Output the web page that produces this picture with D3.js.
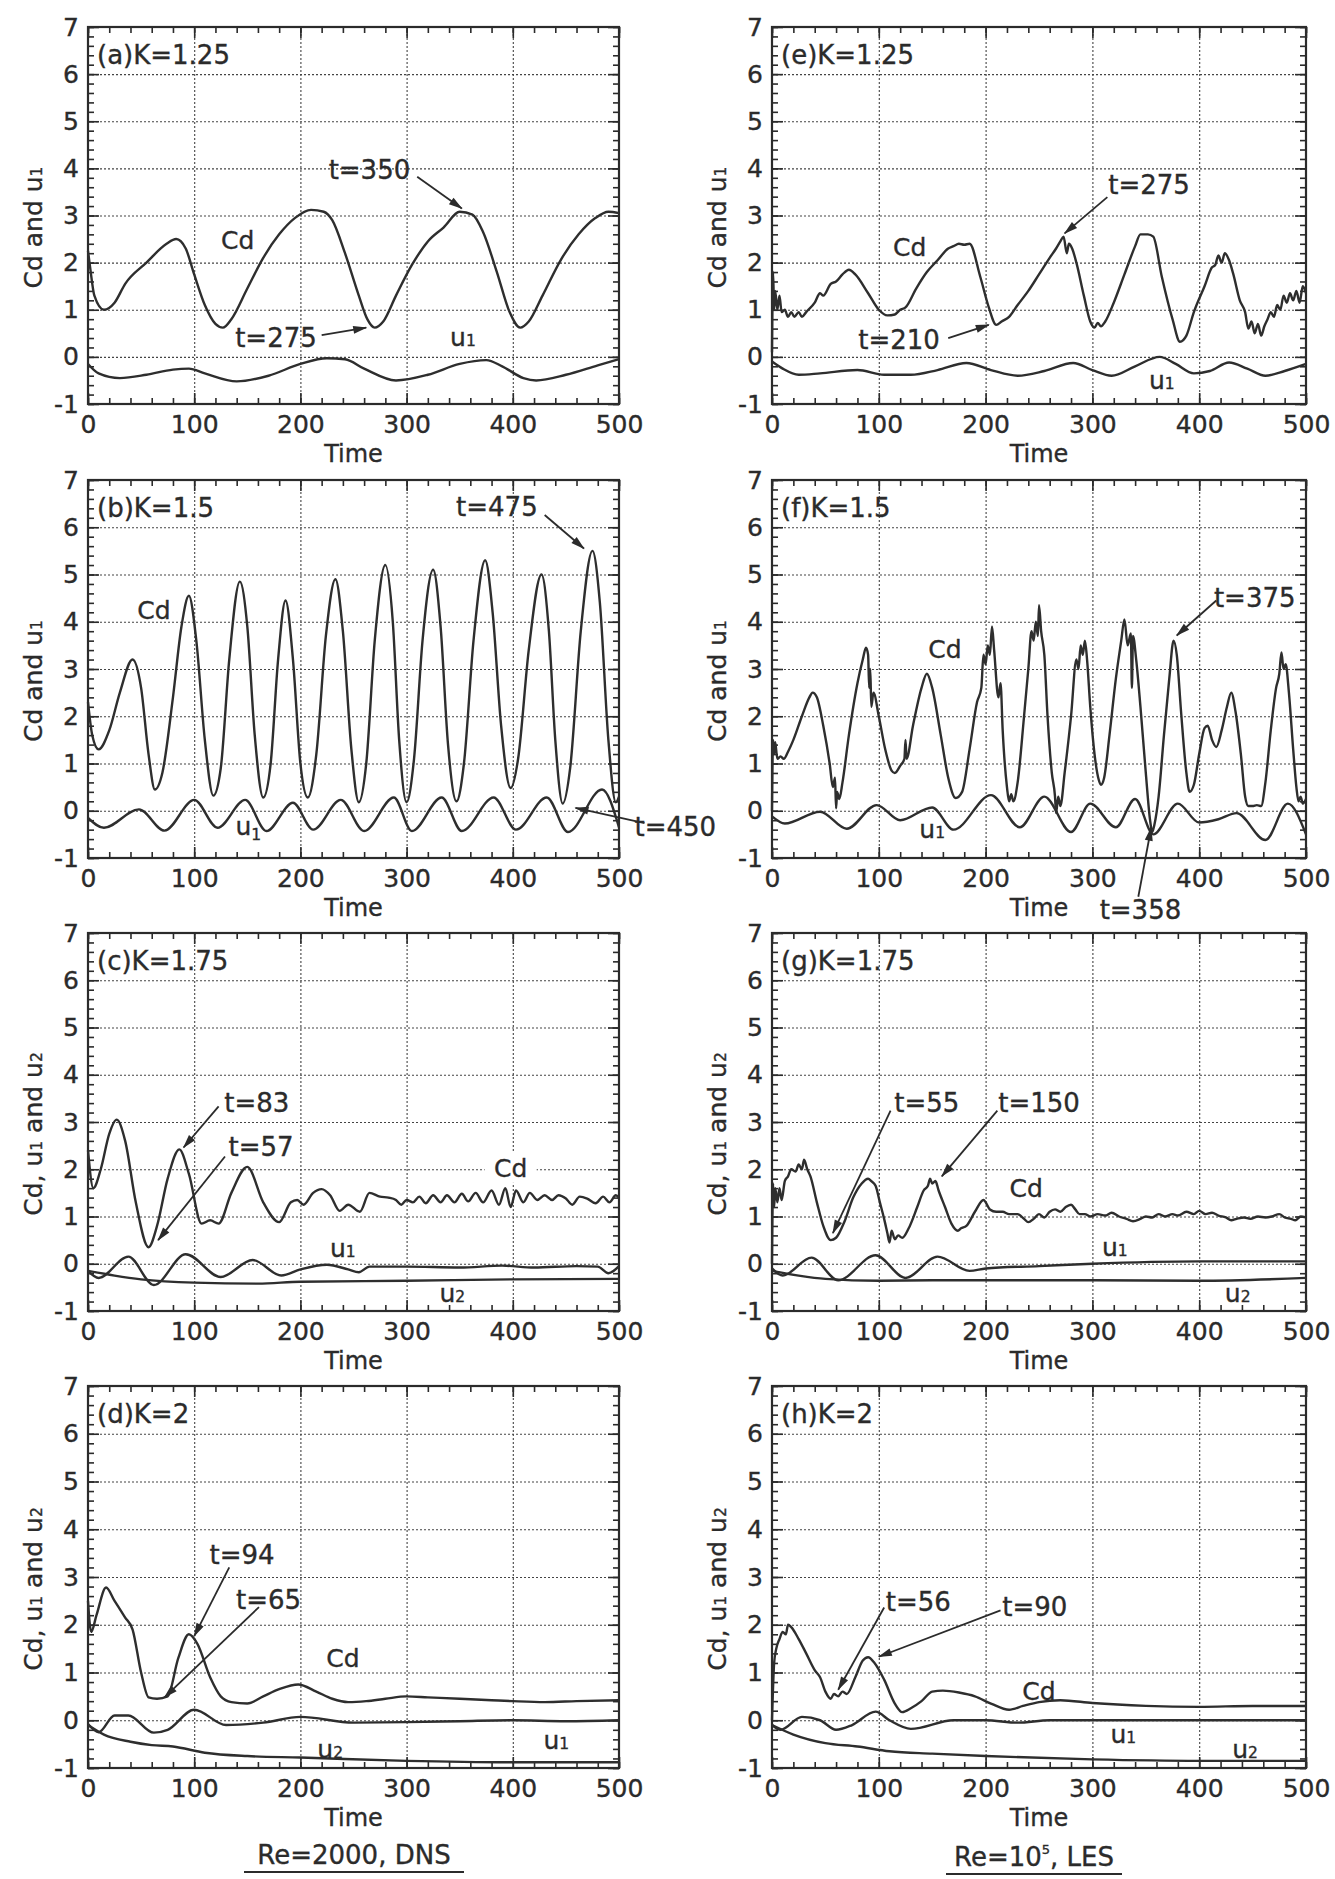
<!DOCTYPE html>
<html>
<head>
<meta charset="utf-8">
<script src="https://cdn.jsdelivr.net/npm/d3@7"></script>
<style>
  body { margin: 0; background: #fff; }
  svg text { font-family: "DejaVu Sans", sans-serif; fill: #2b2b2b; stroke: #2b2b2b; stroke-width: 0.35px; }
</style>
</head>
<body>
<svg id="chart" width="1335" height="1879"></svg>
<script>
// ---- data, [time, value] ----
const aCd = [[0,2.25],[2,1.9],[6,1.3],[15,1.0],[25,1.15],[35,1.55],[55,2.0],[74,2.4],[83,2.5],[92,2.3],[100,1.75],[110,1.1],[120,0.7],[127,0.62],[135,0.8],[150,1.45],[165,2.1],[180,2.6],[195,2.95],[210,3.12],[222,3.08],[230,2.9],[242,2.2],[255,1.3],[263,0.8],[270,0.62],[278,0.75],[290,1.3],[305,1.95],[320,2.45],[335,2.75],[350,3.08],[362,3.02],[372,2.65],[385,1.8],[397,0.95],[407,0.62],[415,0.75],[428,1.3],[445,2.05],[462,2.6],[478,2.95],[490,3.08],[500,3.05]];
const aU1 = [[0,-0.15],[10,-0.35],[30,-0.45],[55,-0.38],[80,-0.27],[95,-0.25],[110,-0.35],[140,-0.52],[170,-0.4],[200,-0.15],[225,-0.03],[242,-0.05],[260,-0.25],[290,-0.5],[320,-0.38],[350,-0.15],[375,-0.07],[390,-0.2],[410,-0.45],[422,-0.5],[450,-0.38],[480,-0.18],[500,-0.05]];

const bCd = [[0,2.3],[4,1.6],[10,1.3],[20,1.7],[30,2.5],[42,3.2],[50,2.6],[57,1.2],[63,0.45],[70,0.8],[80,2.4],[88,3.9],[95,4.55],[102,3.6],[110,1.5],[118,0.32],[125,0.9],[133,3.2],[143,4.85],[150,3.9],[157,1.6],[165,0.28],[172,1.0],[179,3.2],[186,4.45],[193,3.2],[200,1.0],[207,0.28],[215,1.2],[224,3.7],[233,4.9],[240,3.8],[248,1.3],[255,0.18],[262,1.0],[270,3.6],[280,5.2],[287,4.0],[293,1.5],[300,0.18],[307,1.1],[315,3.6],[325,5.1],[332,3.9],[339,1.4],[347,0.2],[354,1.0],[363,3.6],[374,5.3],[381,4.2],[389,1.8],[398,0.48],[405,1.1],[415,3.4],[427,5.0],[434,3.8],[440,1.5],[447,0.15],[454,0.9],[464,3.8],[475,5.5],[482,4.4],[490,1.5],[497,0.18],[500,0.3]];
const bU1 = [[0,-0.15],[15,-0.36],[48,0.03],[72,-0.42],[100,0.23],[122,-0.36],[148,0.23],[168,-0.43],[193,0.17],[212,-0.4],[238,0.23],[260,-0.43],[288,0.28],[305,-0.43],[333,0.28],[352,-0.43],[382,0.28],[403,-0.4],[432,0.28],[452,-0.45],[484,0.45],[500,-0.35]];

const cCd = [[0,2.4],[5,1.6],[12,2.0],[20,2.75],[27,3.05],[35,2.6],[45,1.3],[57,0.35],[65,0.8],[75,1.8],[86,2.42],[95,1.9],[107,0.85],[115,0.92],[123,0.85],[135,1.5],[150,2.05],[165,1.3],[180,0.88],[191,1.3],[197,1.35],[203,1.25],[212,1.5],[220,1.58],[228,1.45],[237,1.12],[245,1.25],[256,1.1],[265,1.5],[275,1.42],[283,1.4],[290,1.35],[295,1.25],[300,1.35],[306,1.3],[312,1.42],[318,1.28],[325,1.45],[332,1.3],[338,1.45],[345,1.3],[352,1.48],[358,1.32],[365,1.5],[372,1.3],[380,1.55],[387,1.25],[393,1.6],[398,1.2],[403,1.55],[410,1.3],[416,1.5],[423,1.35],[430,1.45],[437,1.35],[443,1.45],[450,1.38],[456,1.25],[463,1.42],[470,1.38],[478,1.28],[485,1.42],[491,1.3],[497,1.45],[500,1.4]];
const cU1 = [[0,-0.15],[10,-0.3],[38,0.15],[62,-0.45],[92,0.2],[125,-0.28],[155,0.08],[182,-0.25],[200,-0.12],[225,-0.02],[245,-0.12],[255,-0.18],[265,-0.06],[300,-0.06],[350,-0.08],[390,-0.04],[420,-0.08],[460,-0.05],[480,-0.06],[490,-0.2],[500,-0.05]];
const cU2 = [[0,-0.15],[25,-0.25],[50,-0.33],[100,-0.4],[160,-0.42],[200,-0.38],[300,-0.36],[400,-0.33],[500,-0.32]];

const dCd = [[0,2.5],[3,1.85],[8,2.2],[17,2.78],[25,2.5],[35,2.15],[42,1.9],[50,1.0],[57,0.48],[65,0.45],[75,0.5],[85,1.3],[95,1.8],[103,1.6],[115,0.9],[125,0.5],[135,0.38],[150,0.35],[165,0.5],[180,0.65],[198,0.75],[215,0.6],[230,0.45],[245,0.38],[262,0.4],[280,0.45],[300,0.5],[320,0.48],[350,0.45],[380,0.42],[400,0.4],[430,0.38],[460,0.4],[500,0.42]];
const dU1 = [[0,-0.08],[10,-0.25],[25,0.1],[38,0.1],[62,-0.26],[75,-0.2],[100,0.22],[130,-0.1],[165,-0.05],[200,0.07],[250,-0.05],[300,-0.04],[350,-0.02],[400,0.0],[450,-0.02],[500,0.0]];
const dU2 = [[0,-0.1],[15,-0.3],[40,-0.45],[60,-0.52],[80,-0.55],[110,-0.68],[150,-0.75],[200,-0.78],[300,-0.85],[400,-0.88],[500,-0.88]];

const eCd = [[0,0.1],[1,1.8],[2,1.0],[3,1.4],[5,1.0],[7,1.3],[9,0.95],[12,1.0],[15,0.85],[18,0.95],[21,0.85],[25,0.95],[28,0.85],[32,0.95],[40,1.15],[45,1.35],[48,1.3],[55,1.55],[60,1.6],[66,1.75],[72,1.85],[78,1.75],[90,1.35],[100,1.0],[108,0.88],[115,0.9],[120,1.0],[125,1.05],[135,1.45],[145,1.8],[155,2.05],[165,2.3],[170,2.35],[175,2.4],[180,2.38],[185,2.4],[195,1.7],[203,1.05],[210,0.68],[215,0.75],[222,0.85],[230,1.1],[240,1.4],[250,1.75],[260,2.1],[266,2.3],[270,2.45],[273,2.55],[276,2.2],[278,2.4],[281,2.3],[285,2.0],[292,1.3],[298,0.75],[302,0.62],[305,0.72],[308,0.65],[312,0.75],[320,1.15],[330,1.75],[340,2.35],[345,2.6],[352,2.6],[357,2.55],[365,1.7],[375,0.8],[382,0.32],[388,0.45],[395,0.95],[405,1.5],[412,1.9],[415,1.95],[418,2.15],[421,2.0],[424,2.2],[428,2.05],[432,1.75],[438,1.2],[443,0.95],[446,0.6],[449,0.75],[452,0.5],[455,0.7],[458,0.45],[461,0.65],[464,0.8],[467,0.95],[470,0.85],[473,1.1],[476,1.0],[479,1.3],[482,1.15],[485,1.35],[488,1.2],[491,1.4],[494,1.15],[497,1.5],[500,1.35]];
const eU1 = [[0,-0.1],[10,-0.25],[25,-0.38],[45,-0.35],[80,-0.28],[105,-0.38],[130,-0.38],[155,-0.28],[182,-0.13],[205,-0.28],[230,-0.4],[255,-0.3],[282,-0.13],[300,-0.28],[318,-0.4],[340,-0.2],[363,0.0],[378,-0.15],[395,-0.35],[410,-0.3],[428,-0.12],[445,-0.25],[462,-0.4],[480,-0.3],[500,-0.15]];

const fCd = [[0,0.0],[1,1.5],[2,1.2],[3,1.45],[5,1.1],[8,1.15],[11,1.1],[15,1.25],[20,1.5],[28,2.0],[35,2.4],[38,2.5],[42,2.4],[48,1.8],[54,1.0],[57,0.5],[59,0.7],[60,0.05],[61,0.4],[63,0.25],[66,0.6],[72,1.6],[80,2.7],[85,3.2],[88,3.45],[90,3.3],[91,2.6],[92,3.0],[93,2.2],[95,2.5],[100,2.0],[106,1.3],[112,0.85],[115,0.8],[120,0.95],[124,1.1],[125,1.5],[126,1.1],[132,1.8],[140,2.6],[145,2.9],[150,2.6],[158,1.6],[165,0.7],[172,0.27],[178,0.4],[185,1.3],[192,2.3],[196,2.6],[198,3.3],[200,3.1],[202,3.5],[204,3.3],[206,3.9],[208,3.4],[212,2.4],[214,2.7],[216,1.7],[220,0.5],[222,0.2],[224,0.35],[226,0.2],[230,0.6],[236,2.0],[240,3.0],[243,3.8],[245,3.6],[247,4.0],[249,3.7],[250,4.35],[252,3.8],[255,3.3],[258,2.0],[262,0.8],[265,0.3],[266,-0.05],[268,0.3],[270,0.1],[274,0.8],[280,2.0],[285,3.2],[287,3.0],[289,3.5],[291,3.3],[293,3.6],[295,3.2],[298,2.2],[302,1.2],[306,0.65],[308,0.55],[311,0.7],[316,1.6],[322,2.8],[327,3.6],[330,4.05],[333,3.5],[336,3.75],[337,2.6],[338,3.7],[341,3.2],[345,2.2],[350,0.8],[354,-0.2],[356,-0.45],[358,-0.3],[362,0.3],[367,1.6],[372,2.8],[376,3.6],[379,3.3],[383,2.1],[388,0.8],[391,0.4],[395,0.55],[400,1.2],[405,1.75],[408,1.8],[412,1.5],[416,1.35],[421,1.7],[426,2.2],[430,2.5],[434,2.1],[439,1.2],[443,0.3],[446,0.1],[450,0.1],[454,0.12],[458,0.1],[462,0.6],[467,1.7],[472,2.6],[475,2.9],[477,3.35],[479,3.0],[481,3.1],[484,2.5],[488,1.3],[491,0.5],[493,0.2],[495,0.3],[497,0.15],[500,0.25]];
const fU1 = [[0,-0.12],[12,-0.27],[45,-0.02],[70,-0.38],[98,0.12],[120,-0.2],[150,0.07],[170,-0.4],[205,0.33],[232,-0.35],[255,0.3],[280,-0.45],[298,0.15],[322,-0.35],[340,0.25],[357,-0.5],[380,0.15],[400,-0.25],[418,-0.18],[435,-0.05],[462,-0.62],[483,0.15],[500,-0.5]];

const gCd = [[0,0.0],[1,1.7],[2,1.2],[3,1.6],[5,1.3],[7,1.6],[9,1.35],[12,1.75],[15,1.85],[18,2.0],[22,1.95],[25,2.1],[28,2.0],[30,2.2],[33,2.0],[36,1.85],[42,1.3],[48,0.8],[55,0.5],[60,0.55],[68,0.9],[76,1.4],[84,1.7],[90,1.8],[93,1.75],[97,1.65],[101,1.3],[105,0.95],[108,0.65],[110,0.45],[112,0.7],[115,0.52],[118,0.6],[122,0.55],[128,0.75],[136,1.2],[142,1.55],[146,1.65],[148,1.8],[150,1.7],[153,1.75],[156,1.55],[162,1.2],[168,0.85],[174,0.7],[177,0.75],[182,0.8],[190,1.1],[198,1.35],[204,1.15],[210,1.1],[216,1.1],[222,1.05],[230,1.05],[236,0.95],[240,0.88],[245,0.95],[250,1.05],[255,0.98],[260,1.1],[265,1.15],[270,1.1],[275,1.2],[280,1.25],[284,1.15],[288,1.05],[293,1.05],[298,1.0],[305,1.05],[312,1.02],[318,1.08],[325,1.0],[332,0.95],[338,0.9],[345,0.95],[350,1.0],[356,0.98],[362,1.05],[368,1.0],[375,1.05],[380,1.02],[388,1.1],[395,1.05],[400,1.12],[406,1.05],[412,1.08],[418,1.02],[425,0.98],[430,0.92],[435,0.95],[442,0.98],[448,0.95],[455,1.0],[462,0.98],[468,1.0],[475,1.05],[480,0.98],[486,0.95],[490,0.92],[495,1.0],[500,0.98]];
const gU1 = [[0,-0.1],[10,-0.25],[37,0.13],[62,-0.35],[97,0.18],[125,-0.3],[155,0.15],[185,-0.15],[200,-0.1],[250,-0.05],[300,0.0],[400,0.05],[500,0.05]];
const gU2 = [[0,-0.15],[25,-0.25],[50,-0.32],[100,-0.36],[150,-0.35],[200,-0.35],[300,-0.35],[400,-0.36],[500,-0.3]];

const hCd = [[0,0.0],[2,1.2],[4,1.5],[7,1.7],[10,1.85],[13,1.8],[15,2.0],[18,1.95],[25,1.7],[32,1.4],[40,1.05],[45,0.9],[50,0.6],[55,0.45],[58,0.55],[62,0.5],[66,0.6],[70,0.55],[78,0.9],[85,1.25],[90,1.32],[96,1.2],[105,0.85],[115,0.35],[122,0.17],[130,0.25],[140,0.4],[150,0.6],[160,0.62],[175,0.58],[190,0.5],[205,0.35],[222,0.22],[235,0.3],[250,0.38],[270,0.42],[300,0.36],[350,0.3],[400,0.28],[450,0.3],[500,0.3]];
const hU1 = [[0,-0.1],[8,-0.2],[28,0.07],[45,0.0],[60,-0.2],[75,-0.1],[97,0.18],[110,0.0],[130,-0.18],[170,0.0],[200,0.0],[230,-0.05],[260,0.0],[300,0.0],[400,0.0],[500,0.0]];
const hU2 = [[0,-0.1],[20,-0.3],[50,-0.48],[80,-0.55],[110,-0.65],[150,-0.7],[200,-0.75],[300,-0.82],[400,-0.85],[500,-0.85]];

const xTicks = [0, 100, 200, 300, 400, 500];
const yTicks = [-1, 0, 1, 2, 3, 4, 5, 6, 7];
const titles = ["(a)K=1.25", "(b)K=1.5", "(c)K=1.75", "(d)K=2", "(e)K=1.25", "(f)K=1.5", "(g)K=1.75", "(h)K=2"];

// ---- layout ----
const colLeft = [88, 772], colWidth = [531, 534];
const rowTop = [27, 480, 933, 1386], rowHeight = [377, 378, 378, 382];

const panels = [
  { col: 0, row: 0, title: titles[0], two: false, series: [aCd, aU1],
    labels: [{ t: 141, v: 2.48, s: "Cd" }, { t: 353, v: 0.42, s: "u", sub: "1" }],
    arrows: [{ t: 265, v: 3.96, s: "t=350", from: [310, 3.82], to: [352, 3.15] },
             { t: 177, v: 0.4, s: "t=275", from: [220, 0.46], to: [262, 0.62] }] },
  { col: 0, row: 1, title: titles[1], two: false, series: [bCd, bU1],
    labels: [{ t: 62, v: 4.25, s: "Cd" }, { t: 151, v: -0.32, s: "u", sub: "1", low: true }],
    arrows: [{ t: 385, v: 6.43, s: "t=475", from: [430, 6.26], to: [467, 5.55] },
             { t: 553, v: -0.34, s: "t=450", from: [524, -0.26], to: [459, 0.06] }] },
  { col: 0, row: 2, title: titles[2], two: true, series: [cCd, cU1, cU2],
    labels: [{ t: 398, v: 2.03, s: "Cd", box: true }, { t: 240, v: 0.33, s: "u", sub: "1" }, { t: 343, v: -0.62, s: "u", sub: "2" }],
    arrows: [{ t: 159, v: 3.4, s: "t=83", from: [123, 3.33], to: [90, 2.46] },
             { t: 163, v: 2.47, s: "t=57", from: [129, 2.27], to: [66, 0.5] }] },
  { col: 0, row: 3, title: titles[3], two: true, series: [dCd, dU1, dU2],
    labels: [{ t: 240, v: 1.3, s: "Cd" }, { t: 441, v: -0.41, s: "u", sub: "1" }, { t: 228, v: -0.6, s: "u", sub: "2" }],
    arrows: [{ t: 145, v: 3.46, s: "t=94", from: [133, 3.2], to: [100, 1.76] },
             { t: 170, v: 2.52, s: "t=65", from: [161, 2.37], to: [72, 0.48] }] },
  { col: 1, row: 0, title: titles[4], two: false, series: [eCd, eU1],
    labels: [{ t: 129, v: 2.33, s: "Cd" }, { t: 365, v: -0.5, s: "u", sub: "1" }],
    arrows: [{ t: 353, v: 3.65, s: "t=275", from: [314, 3.39], to: [274, 2.62] },
             { t: 119, v: 0.35, s: "t=210", from: [165, 0.4], to: [203, 0.68] }] },
  { col: 1, row: 1, title: titles[5], two: false, series: [fCd, fU1],
    labels: [{ t: 162, v: 3.41, s: "Cd" }, { t: 150, v: -0.4, s: "u", sub: "1" }],
    arrows: [{ t: 452, v: 4.5, s: "t=375", from: [416, 4.45], to: [379, 3.71] },
             { t: 345, v: -2.1, s: "t=358", from: [343, -1.82], to: [355, -0.36] }] },
  { col: 1, row: 2, title: titles[6], two: true, series: [gCd, gU1, gU2],
    labels: [{ t: 238, v: 1.6, s: "Cd" }, { t: 321, v: 0.35, s: "u", sub: "1" }, { t: 436, v: -0.62, s: "u", sub: "2" }],
    arrows: [{ t: 145, v: 3.4, s: "t=55", from: [111, 3.24], to: [57, 0.65] },
             { t: 250, v: 3.4, s: "t=150", from: [211, 3.24], to: [159, 1.85] }] },
  { col: 1, row: 3, title: titles[7], two: true, series: [hCd, hU1, hU2],
    labels: [{ t: 250, v: 0.6, s: "Cd" }, { t: 329, v: -0.3, s: "u", sub: "1" }, { t: 443, v: -0.6, s: "u", sub: "2" }],
    arrows: [{ t: 137, v: 2.48, s: "t=56", from: [105, 2.36], to: [62, 0.64] },
             { t: 246, v: 2.37, s: "t=90", from: [214, 2.3], to: [100, 1.33] }] }
];

const ink = "#2b2b2b";
const svg = d3.select("#chart");
svg.append("rect").attr("width", 1335).attr("height", 1879).attr("fill", "#fff");

svg.append("defs").append("marker")
    .attr("id", "arrow")
    .attr("viewBox", "0 0 14 10")
    .attr("refX", 13).attr("refY", 5)
    .attr("markerWidth", 15).attr("markerHeight", 10)
    .attr("markerUnits", "userSpaceOnUse")
    .attr("orient", "auto")
    .append("path").attr("d", "M0,1L14,5L0,9Z").attr("fill", ink);

function addSub(text, s, sub, low) {
    text.append("tspan").text(s);
    if (sub) {
        text.append("tspan").attr("font-size", "0.62em")
            .attr("dy", low ? "0.35em" : "0").text(sub);
    }
}

panels.forEach(function (p) {
    const left = colLeft[p.col], top = rowTop[p.row];
    const width = colWidth[p.col], height = rowHeight[p.row];

    const x = d3.scaleLinear().domain([0, 500]).range([0, width]);
    const y = d3.scaleLinear().domain([-1, 7]).range([height, 0]);

    const g = svg.append("g").attr("transform", "translate(" + left + "," + top + ")");

    // dotted grid
    g.append("g").attr("class", "grid")
        .attr("transform", "translate(0," + height + ")")
        .call(d3.axisBottom(x).tickValues([100, 200, 300, 400]).tickSize(-height).tickFormat(""));
    g.append("g").attr("class", "grid")
        .call(d3.axisLeft(y).tickValues([0, 1, 2, 3, 4, 5, 6]).tickSize(-width).tickFormat(""));
    g.selectAll(".grid .domain").remove();
    g.selectAll(".grid line").attr("stroke", "#444").attr("stroke-width", 1.1).attr("stroke-dasharray", "2,2");

    // minor ticks, all four sides, pointing in
    const minorX = d3.range(0, 501, 20), minorY = d3.range(-1, 7.01, 0.2);
    g.append("g").attr("class", "tk").attr("transform", "translate(0," + height + ")")
        .call(d3.axisBottom(x).tickValues(minorX).tickSize(-6).tickFormat(""));
    g.append("g").attr("class", "tk")
        .call(d3.axisTop(x).tickValues(minorX).tickSize(-6).tickFormat(""));
    g.append("g").attr("class", "tk")
        .call(d3.axisLeft(y).tickValues(minorY).tickSize(-6).tickFormat(""));
    g.append("g").attr("class", "tk").attr("transform", "translate(" + width + ",0)")
        .call(d3.axisRight(y).tickValues(minorY).tickSize(-6).tickFormat(""));

    // major ticks with labels
    g.append("g").attr("class", "tk xaxis").attr("transform", "translate(0," + height + ")")
        .call(d3.axisBottom(x).tickValues(xTicks).tickSize(-11).tickPadding(11).tickFormat(d => String(d)));
    g.append("g").attr("class", "tk yaxis")
        .call(d3.axisLeft(y).tickValues(yTicks).tickSize(-11).tickPadding(9).tickFormat(d => String(d)));
    g.append("g").attr("class", "tk")
        .call(d3.axisTop(x).tickValues(xTicks).tickSize(-11).tickFormat(""));
    g.append("g").attr("class", "tk").attr("transform", "translate(" + width + ",0)")
        .call(d3.axisRight(y).tickValues(yTicks).tickSize(-11).tickFormat(""));

    g.selectAll(".tk .domain").remove();
    g.selectAll(".tk line").attr("stroke", ink).attr("stroke-width", 1.6);
    g.selectAll(".tk text").attr("font-size", 25).attr("fill", ink)
        .attr("font-family", "'DejaVu Sans', sans-serif");

    // frame
    g.append("rect").attr("width", width).attr("height", height)
        .attr("fill", "none").attr("stroke", ink).attr("stroke-width", 2.2);

    // curves
    const line = d3.line().x(d => x(d[0])).y(d => y(d[1])).curve(d3.curveMonotoneX);
    p.series.forEach(function (s) {
        g.append("path").datum(s).attr("d", line)
            .attr("fill", "none").attr("stroke", "#2e2e2e").attr("stroke-width", 2.4)
            .attr("stroke-linejoin", "round");
    });

    // panel title
    g.append("text").attr("x", 9).attr("y", 28).attr("dy", "0.35em")
        .attr("font-size", 26).text(p.title);

    // axis titles
    g.append("text")
        .attr("x", width / 2).attr("y", height + 58)
        .attr("text-anchor", "middle").attr("font-size", 24).text("Time");

    const yt = g.append("text")
        .attr("transform", "translate(-55," + (height / 2 + 12) + ") rotate(-90)")
        .attr("text-anchor", "middle").attr("dy", "0.35em").attr("font-size", 25);
    if (p.two) {
        addSub(yt, "Cd,  u", "1");
        yt.append("tspan").text(" and u");
        yt.append("tspan").attr("font-size", "0.62em").text("2");
    } else {
        addSub(yt, "Cd and u", "1");
    }

    // curve labels
    p.labels.forEach(function (l) {
        if (l.box) {
            g.append("rect").attr("x", x(l.t) - 26).attr("y", y(l.v) - 15)
                .attr("width", 52).attr("height", 30).attr("fill", "#fff");
        }
        const t = g.append("text").attr("x", x(l.t)).attr("y", y(l.v))
            .attr("dy", "0.35em").attr("text-anchor", "middle").attr("font-size", 25);
        addSub(t, l.s, l.sub, l.low);
    });

    // arrow annotations
    p.arrows.forEach(function (a) {
        g.append("line")
            .attr("x1", x(a.from[0])).attr("y1", y(a.from[1]))
            .attr("x2", x(a.to[0])).attr("y2", y(a.to[1]))
            .attr("stroke", ink).attr("stroke-width", 1.8)
            .attr("marker-end", "url(#arrow)");
        g.append("text").attr("x", x(a.t)).attr("y", y(a.v))
            .attr("dy", "0.35em").attr("text-anchor", "middle").attr("font-size", 26)
            .text(a.s);
    });
});

// captions under each column
svg.append("text").attr("x", 354).attr("y", 1864)
    .attr("text-anchor", "middle").attr("font-size", 26).text("Re=2000,  DNS");
svg.append("line").attr("x1", 244).attr("x2", 464).attr("y1", 1872).attr("y2", 1872)
    .attr("stroke", ink).attr("stroke-width", 2.2);

const cap2 = svg.append("text").attr("x", 1034).attr("y", 1866)
    .attr("text-anchor", "middle").attr("font-size", 26);
cap2.append("tspan").text("Re=10");
cap2.append("tspan").attr("font-size", "0.5em").attr("dy", "-0.9em").text("5");
cap2.append("tspan").attr("dy", "0.45em").text(",  LES");
svg.append("line").attr("x1", 946).attr("x2", 1122).attr("y1", 1874).attr("y2", 1874)
    .attr("stroke", ink).attr("stroke-width", 2.2);
</script>
</body>
</html>
